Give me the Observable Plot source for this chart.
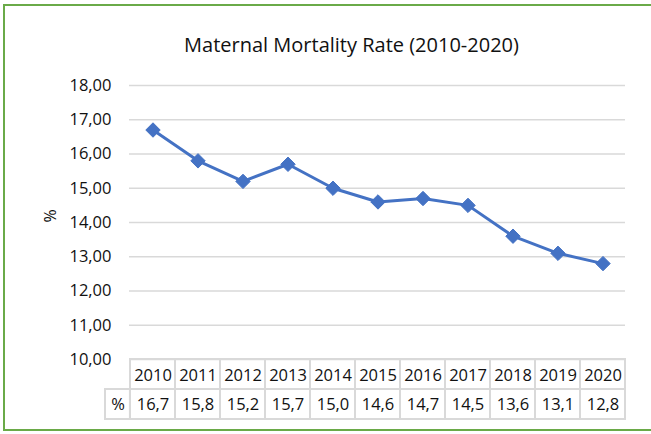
<!DOCTYPE html>
<html>
<head>
<meta charset="utf-8">
<script src="https://cdn.jsdelivr.net/npm/d3@7"></script>
<script src="https://cdn.jsdelivr.net/npm/@observablehq/plot@0.6"></script>
<style>
html, body { margin: 0; padding: 0; background: #fff; overflow: hidden; width: 651px; height: 434px; }
#wrap { position: relative; width: 651px; height: 434px; overflow: hidden; }
#border { position: absolute; left: 3px; top: 4px; width: 700px; height: 427px; border: 2px solid #6aaa48; box-sizing: border-box; }
#title { position: absolute; left: 0; top: 35px; width: 703px; text-align: center; font-family: "Open Sans", sans-serif; font-size: 20px; line-height: 20px; color: #111; }
#chart, #table { position: absolute; left: 0; }
#chart { top: 0; }
#table { top: 358px; }
</style>
</head>
<body>
<div id="wrap">
  <div id="border"></div>
  <div id="title">Maternal Mortality Rate (2010-2020)</div>
  <div id="chart"></div>
  <div id="table"></div>
</div>
<script>
const years = [2010, 2011, 2012, 2013, 2014, 2015, 2016, 2017, 2018, 2019, 2020];
const rates = [16.7, 15.8, 15.2, 15.7, 15.0, 14.6, 14.7, 14.5, 13.6, 13.1, 12.8];
const yTicks = [10, 11, 12, 13, 14, 15, 16, 17, 18];
const rowLabel = "%";

const data = years.map((year, i) => ({year, rate: rates[i]}));
const fmt2 = d => d.toFixed(2).replace(".", ",");
const fmt1 = d => d.toFixed(1).replace(".", ",");

const W = 651, ML = 129, MR = 26;
const bw = (W - ML - MR) / years.length;
const blue = "#4472c4";
const grid = "#d9d9d9";
const baseStyle = {fontFamily: "Open Sans, sans-serif", fontSize: "16.5px", color: "#111", background: "transparent", overflow: "visible"};

const chart = Plot.plot({
  width: W, height: 434,
  marginLeft: ML, marginRight: MR, marginTop: 85, marginBottom: 75,
  style: baseStyle,
  x: {type: "band", domain: years, axis: null, padding: 0},
  y: {domain: [10, 18], ticks: yTicks, tickFormat: fmt2, tickSize: 0, tickPadding: 18, label: null},
  marks: [
    Plot.ruleY(yTicks, {stroke: grid, strokeWidth: 1.3}),
    Plot.line(data, {x: "year", y: "rate", stroke: blue, strokeWidth: 3}),
    Plot.dot(data, {x: "year", y: "rate", symbol: "diamond2", r: 6.5, fill: blue, stroke: blue, strokeWidth: 1}),
    Plot.text([rowLabel], {frameAnchor: "left", dx: -79, rotate: -90, text: d => d, fontSize: 16})
  ]
});
document.getElementById("chart").append(chart);

const table = Plot.plot({
  width: W, height: 62,
  marginLeft: ML, marginRight: MR, marginTop: 1, marginBottom: 1,
  style: {...baseStyle, fontSize: "16.5px"},
  x: {type: "band", domain: years, axis: null, padding: 0},
  y: {type: "band", domain: ["year", "value"], axis: null, padding: 0},
  marks: [
    Plot.cell(data, {x: "year", y: () => "year", fill: "none", stroke: grid, strokeWidth: 2, inset: 0}),
    Plot.cell(data, {x: "year", y: () => "value", fill: "none", stroke: grid, strokeWidth: 2, inset: 0}),
    Plot.cell([years[0]], {x: d => d, y: () => "value", fill: "none", stroke: grid, strokeWidth: 2, inset: 0, insetRight: bw - 25, dx: -25}),
    Plot.text(data, {x: "year", y: () => "year", text: d => String(d.year), dy: 1}),
    Plot.text(data, {x: "year", y: () => "value", text: d => fmt1(d.rate)}),
    Plot.text([rowLabel], {x: () => years[0], y: () => "value", text: d => d, dx: -(bw / 2 + 12.5)})
  ]
});
document.getElementById("table").append(table);
</script>
</body>
</html>
